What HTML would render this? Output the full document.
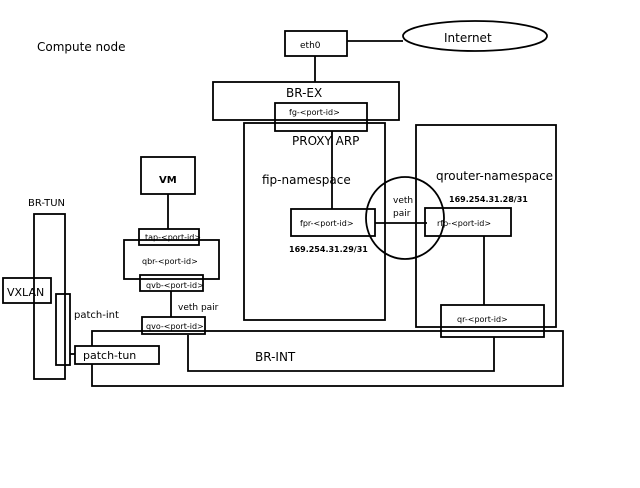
<!DOCTYPE html>
<html><head><style>
html,body{margin:0;padding:0;background:#fff;width:640px;height:488px;overflow:hidden}
svg text{font-family:"DejaVu Sans","Liberation Sans",sans-serif;fill:#000}
</style></head><body>
<svg width="640" height="488" viewBox="0 0 640 488" xmlns="http://www.w3.org/2000/svg">
<g fill="none" stroke="#000" stroke-width="1.8">
<rect x="285" y="31" width="62" height="25"/>
<ellipse cx="475" cy="36" rx="72" ry="15"/>
<line x1="347" y1="41" x2="403" y2="41"/>
<line x1="315" y1="56" x2="315" y2="82"/>
<rect x="213" y="82" width="186" height="38"/>
<rect x="244" y="123" width="141" height="197"/>
<rect x="275" y="103" width="92" height="28"/>
<line x1="332" y1="131" x2="332" y2="209"/>
<rect x="291" y="209" width="84" height="27"/>
<ellipse cx="405" cy="218" rx="39" ry="41"/>
<line x1="375" y1="223" x2="427" y2="223"/>
<rect x="416" y="125" width="140" height="202"/>
<rect x="425" y="208" width="86" height="28"/>
<line x1="484" y1="236" x2="484" y2="305"/>
<rect x="92" y="331" width="471" height="55"/>
<rect x="441" y="305" width="103" height="32"/>
<polyline points="188,335 188,371 494,371 494,337"/>
<rect x="141" y="157" width="54" height="37"/>
<line x1="168" y1="194" x2="168" y2="229"/>
<rect x="124" y="240" width="95" height="39"/>
<rect x="139" y="229" width="60" height="16"/>
<rect x="140" y="275" width="63" height="16"/>
<line x1="171" y1="291" x2="171" y2="317"/>
<rect x="142" y="317" width="63" height="17"/>
<rect x="34" y="214" width="31" height="165"/>
<rect x="3" y="278" width="48" height="25"/>
<rect x="56" y="294" width="14" height="71"/>
<line x1="70" y1="354" x2="75" y2="354"/>
<rect x="75" y="346" width="84" height="18" fill="#fff"/>
</g>
<text x="37" y="51" font-size="12">Compute node</text>
<text x="300" y="48" font-size="9">eth0</text>
<text x="444" y="42" font-size="12">Internet</text>
<text x="286" y="97" font-size="12">BR-EX</text>
<text x="289" y="115" font-size="8">fg-&lt;port-id&gt;</text>
<text x="292" y="145" font-size="12">PROXY ARP</text>
<text x="262" y="184" font-size="12">fip-namespace</text>
<text x="300" y="226" font-size="8">fpr-&lt;port-id&gt;</text>
<text x="289" y="252" font-size="8" font-weight="bold">169.254.31.29/31</text>
<text x="393" y="203" font-size="9">veth</text>
<text x="393" y="216" font-size="9">pair</text>
<text x="436" y="180" font-size="12">qrouter-namespace</text>
<text x="449" y="202" font-size="8" font-weight="bold">169.254.31.28/31</text>
<text x="437" y="226" font-size="8">rfp-&lt;port-id&gt;</text>
<text x="457" y="322" font-size="8">qr-&lt;port-id&gt;</text>
<text x="255" y="361" font-size="12">BR-INT</text>
<text x="159" y="183" font-size="10" font-weight="bold">VM</text>
<text x="145" y="240" font-size="8">tap-&lt;port-id&gt;</text>
<text x="142" y="264" font-size="8">qbr-&lt;port-id&gt;</text>
<text x="146" y="288" font-size="8">qvb-&lt;port-id&gt;</text>
<text x="178" y="310" font-size="9">veth pair</text>
<text x="146" y="329" font-size="8">qvo-&lt;port-id&gt;</text>
<text x="28" y="206" font-size="10">BR-TUN</text>
<text x="7" y="296" font-size="11">VXLAN</text>
<text x="74" y="318" font-size="10">patch-int</text>
<text x="83" y="359" font-size="11">patch-tun</text>
</svg>
</body></html>
